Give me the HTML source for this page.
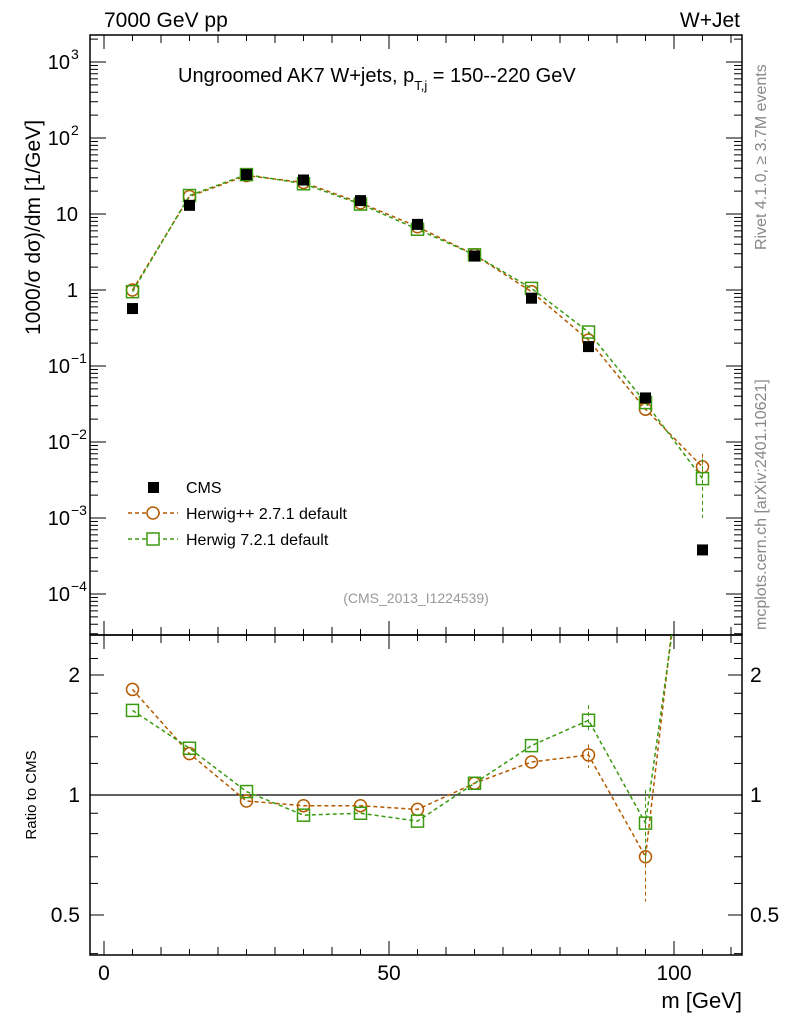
<!DOCTYPE html>
<html><head><meta charset="utf-8"><style>
body{margin:0;background:#fff;}
svg{font-family:"Liberation Sans","DejaVu Sans",sans-serif;}
</style></head><body>
<svg id="c" width="786" height="1024" xmlns="http://www.w3.org/2000/svg"></svg>
<script>
const centers=[5,15,25,35,45,55,65,75,85,95,105];
const cms=[0.57,13,33,28,15,7.3,2.8,0.78,0.18,0.038,0.00038];
const hpp=[1.0,17,32,26,14,6.8,2.9,0.95,0.22,0.027,0.0047];
const h7=[0.95,17.5,33,25,13.5,6.3,2.9,1.05,0.28,0.033,0.0033];
const hppRatio=[1.84,1.27,0.966,0.94,0.94,0.92,1.07,1.21,1.26,0.70,12];
const h7Ratio=[1.63,1.31,1.02,0.89,0.90,0.86,1.07,1.33,1.54,0.85,9];
const yTickExp=[-4,-3,-2,-1,0,1,2,3];
const yTickLabels=["10","10","10","10","1","10","10","10"];
const yTickSup=["−4","−3","−2","−1","","","2","3"];
const xTicks=[0,50,100];
const rTicks=[0.5,1,2];

const svg=document.getElementById('c');
const NS="http://www.w3.org/2000/svg";
function el(t,a,p){const e=document.createElementNS(NS,t);for(const k in a)e.setAttribute(k,a[k]);(p||svg).appendChild(e);return e;}
const L=90,R=742,T=35,M=635,B=955;
const X=v=>104+(v-0)*5.7;
const Y=v=>290-Math.log10(v)*76;
const YR=v=>795-Math.log2(v)*120;

let f1=el('rect',{x:L,y:T,width:R-L,height:M-T,fill:'none',stroke:'#000','stroke-width':1.5});

let f2=el('rect',{x:L,y:M,width:R-L,height:B-M,fill:'none',stroke:'#000','stroke-width':1.5});


for(let v=0;v<=110;v+=5){const maj=v%50===0;const len=maj?14:(v%10===0?8:6);
 for(const [yb,dir] of [[M,-1],[B,-1],[T,1],[M,1]]){
  el('line',{x1:X(v),x2:X(v),y1:yb,y2:yb+dir*len,stroke:'#000','stroke-width':1});}}
xTicks.forEach(v=>{const t=el('text',{x:X(v),y:980,'text-anchor':'middle','font-size':21});t.textContent=v;
 });
let xt=el('text',{x:742,y:1008,'text-anchor':'end','font-size':22});xt.textContent='m [GeV]';


for(let e=-5;e<=3;e++){for(let m=1;m<10;m++){const v=m*Math.pow(10,e);const y=Y(v);if(y<T||y>M)continue;
 const len=m===1?16:8;
 el('line',{x1:L,x2:L+len,y1:y,y2:y,stroke:'#000'});el('line',{x1:R,x2:R-len,y1:y,y2:y,stroke:'#000'});}}
yTickExp.forEach((e,i)=>{const y=Y(Math.pow(10,e));
 const t=el('text',{x:yTickSup[i]?70:78,y:y+7,'text-anchor':'end','font-size':20});t.textContent=yTickLabels[i];
 
 if(yTickSup[i]){const s=el('text',{x:71,y:y-3,'font-size':14});s.textContent=yTickSup[i];}});
let yt=el('text',{x:0,y:0,'font-size':21,transform:'translate(40,335) rotate(-90)'});
yt.textContent='1000/σ   dσ)/dm [1/GeV]';


[0.4,0.5,0.6,0.7,0.8,0.9,1,1.2,1.4,1.6,1.8,2,2.2,2.4].forEach(v=>{const y=YR(v);const maj=rTicks.includes(v);const len=maj?14:8;
 el('line',{x1:L,x2:L+len,y1:y,y2:y,stroke:'#000'});el('line',{x1:R,x2:R-len,y1:y,y2:y,stroke:'#000'});});
rTicks.forEach(v=>{for(const [x,a] of [[80,'end'],[750,'start']]){const t=el('text',{x:x,y:YR(v)+7,'text-anchor':a,'font-size':21});t.textContent=v;
 }});
let rt=el('text',{x:0,y:0,'font-size':15,'text-anchor':'middle',transform:'translate(36,795) rotate(-90)'});rt.textContent='Ratio to CMS';

el('line',{x1:L,x2:R,y1:YR(1),y2:YR(1),stroke:'#000','stroke-width':1.3});

const defs=el('defs',{});
const cp1=el('clipPath',{id:'cm'},defs);el('rect',{x:L,y:T,width:R-L,height:M-T},cp1);
const cp2=el('clipPath',{id:'cr'},defs);el('rect',{x:L,y:M,width:R-L,height:B-M},cp2);
const gm=el('g',{'clip-path':'url(#cm)'});const gr=el('g',{'clip-path':'url(#cr)'});

function series(g,vals,yf,color,shape,name){
 const pl=el('polyline',{points:vals.map((v,i)=>X(centers[i])+','+yf(v)).join(' '),fill:'none',stroke:color,'stroke-width':1.5,'stroke-dasharray':'4,3'},g);
 
 vals.forEach((v,i)=>{const x=X(centers[i]),y=yf(v);let m;
  if(shape==='c')m=el('circle',{cx:x,cy:y,r:6,fill:'none',stroke:color,'stroke-width':1.5},g);
  else m=el('rect',{x:x-6,y:y-6,width:12,height:12,fill:'none',stroke:color,'stroke-width':1.5},g);
  });
}
series(gm,hpp,Y,'#b35a00','c','herwigpp');
series(gm,h7,Y,'#3a9a10','s','herwig7');
cms.forEach((v,i)=>{const m=el('rect',{x:X(centers[i])-5.5,y:Y(v)-5.5,width:11,height:11,fill:'#000'},gm);
 });
el('line',{x1:X(105),x2:X(105),y1:Y(0.007),y2:Y(0.0035),stroke:'#b35a00','stroke-dasharray':'4,3'},gm);
el('line',{x1:X(105),x2:X(105),y1:Y(0.006),y2:Y(0.001),stroke:'#3a9a10','stroke-dasharray':'4,3'},gm);
series(gr,hppRatio,YR,'#b35a00','c','herwigpp-ratio');
series(gr,h7Ratio,YR,'#3a9a10','s','herwig7-ratio');
el('line',{x1:X(95),x2:X(95),y1:YR(0.70),y2:YR(0.54),stroke:'#b35a00','stroke-dasharray':'4,3'},gr);
el('line',{x1:X(95),x2:X(95),y1:YR(1.03),y2:YR(0.68),stroke:'#3a9a10','stroke-dasharray':'4,3'},gr);
el('line',{x1:X(85),x2:X(85),y1:YR(1.68),y2:YR(1.45),stroke:'#3a9a10','stroke-dasharray':'4,3'},gr);
el('line',{x1:X(85),x2:X(85),y1:YR(1.34),y2:YR(1.17),stroke:'#b35a00','stroke-dasharray':'4,3'},gr);

const lg=el('g',{});
el('rect',{x:148,y:482,width:11,height:11,fill:'#000'},lg);
el('line',{x1:128,x2:178,y1:513,y2:513,stroke:'#b35a00','stroke-width':1.5,'stroke-dasharray':'4,3'},lg);
el('circle',{cx:153,cy:513,r:6,fill:'#fff',stroke:'#b35a00','stroke-width':1.5},lg);
el('line',{x1:128,x2:178,y1:539,y2:539,stroke:'#3a9a10','stroke-width':1.5,'stroke-dasharray':'4,3'},lg);
el('rect',{x:147,y:533,width:12,height:12,fill:'#fff',stroke:'#3a9a10','stroke-width':1.5},lg);
[['CMS',493],['Herwig++ 2.7.1 default',519],['Herwig 7.2.1 default',545]].forEach(([s,y])=>{const t=el('text',{x:186,y:y,'font-size':16},lg);t.textContent=s;
 });

function txt(s,a,n){const t=el('text',a);t.textContent=s;return t;}
txt('7000 GeV pp',{x:104,y:27,'font-size':21},'energy-label');
txt('W+Jet',{x:740,y:27,'font-size':21,'text-anchor':'end'},'process-label');
const tt=txt('Ungroomed AK7 W+jets, p',{x:178,y:82,'font-size':20},'plot-title');
const s1=el('tspan',{'font-size':13,dy:8},tt);s1.textContent='T,j';
const s2=el('tspan',{dy:-8},tt);s2.textContent=' = 150--220 GeV';
txt('(CMS_2013_I1224539)',{x:416,y:603,'font-size':14,fill:'#999','text-anchor':'middle'},'analysis-id');
txt('Rivet 4.1.0, ≥ 3.7M events',{x:0,y:0,'font-size':16,fill:'#888',transform:'translate(766,250) rotate(-90)'},'rivet-version');
txt('mcplots.cern.ch [arXiv:2401.10621]',{x:0,y:0,'font-size':16,fill:'#888',transform:'translate(766,630) rotate(-90)'},'mcplots-credit');
</script>
</body></html>
